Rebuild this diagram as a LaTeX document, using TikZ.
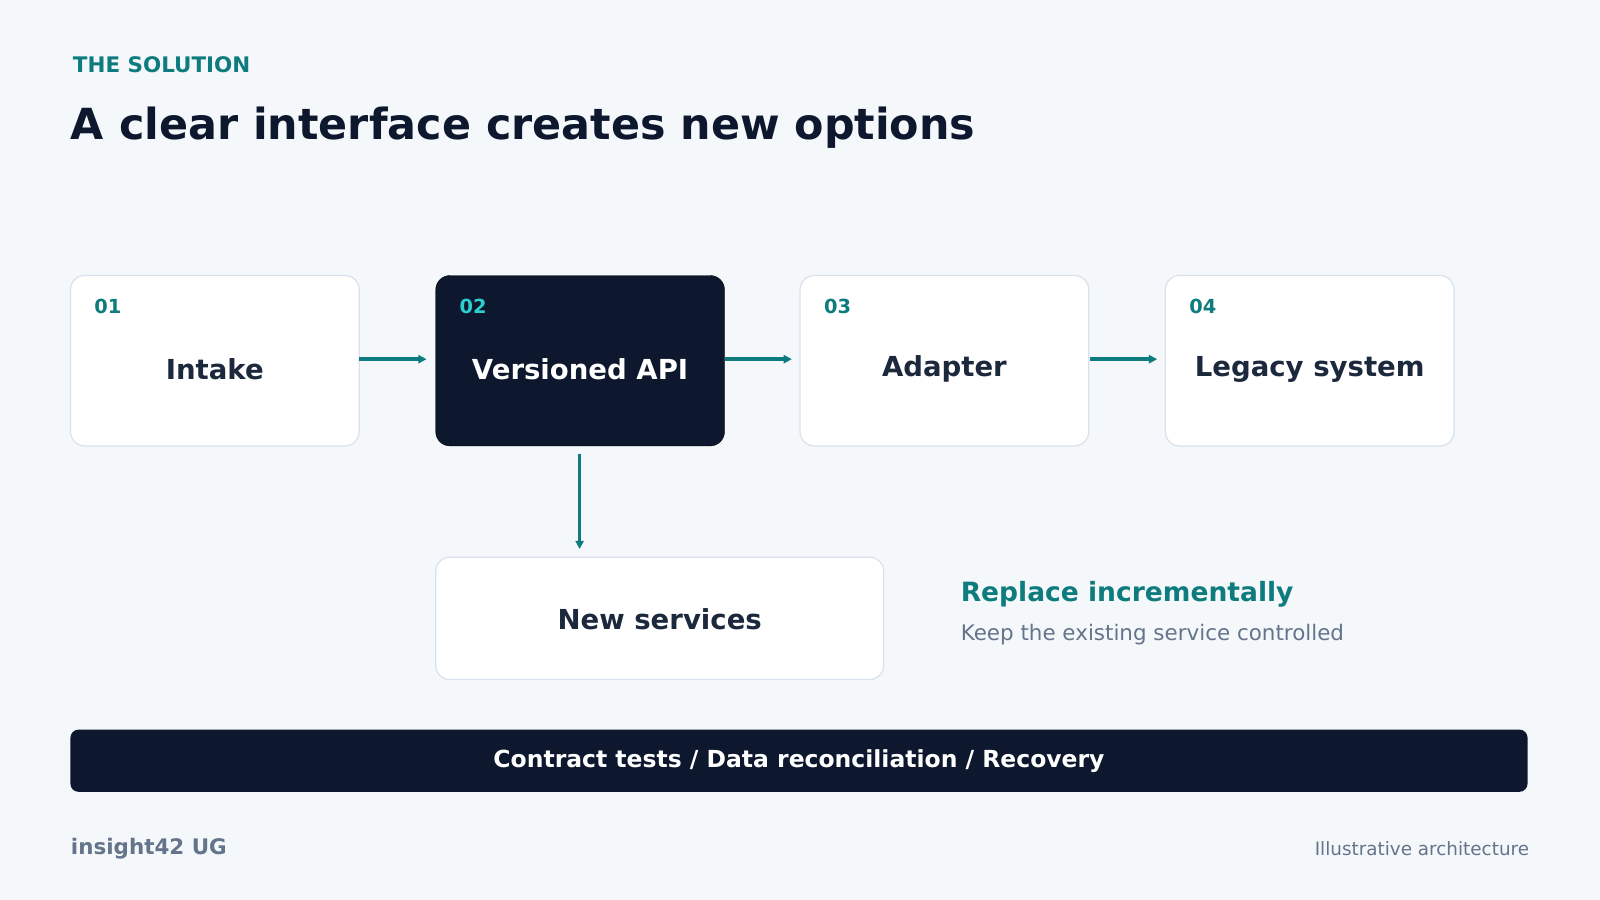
\documentclass[tikz,border=0pt]{standalone}
\usepackage{fontspec}
\setmainfont{DejaVu Sans}
\usetikzlibrary{arrows.meta}
\definecolor{bg}{HTML}{F4F8FB}
\definecolor{teal}{HTML}{0E7C7E}
\definecolor{navy}{HTML}{0D182E}
\definecolor{ink}{HTML}{1C283C}
\definecolor{bord}{HTML}{D9E2EC}
\definecolor{gray}{HTML}{64748B}
\definecolor{cyan}{HTML}{2CCFCF}
\begin{document}
\begin{tikzpicture}[x=1pt,y=-1pt,
 box/.style={draw=bord,line width=1.2pt,fill=white,rounded corners=14pt},
 dbox/.style={fill=navy,rounded corners=14pt},
 lab/.style={font=\fontsize{27}{30}\bfseries\selectfont,text=ink},
 num/.style={font=\fontsize{19}{22}\bfseries\selectfont,text=teal,anchor=west},
 arr/.style={draw=teal,line width=3.5pt,-{Triangle[length=8pt,width=8pt]}}]
\fill[bg] (0,0) rectangle (1568,882);
\node[anchor=west,text=teal,font=\fontsize{21}{24}\bfseries\selectfont] (kick) at (68,63) {THE SOLUTION};
\node[anchor=west,text=navy,font=\fontsize{42}{48}\bfseries\selectfont] (title) at (66,125) {A clear interface creates new options};
\draw[box] (69,270) rectangle (352,437);
\draw[dbox] (427,270) rectangle (710,437);
\draw[box] (784,270) rectangle (1067,437);
\draw[box] (1142,270) rectangle (1425,437);
\draw[box] (427,546) rectangle (866,666);
\node[num] (n1) at (89,300) {01};
\node[num,text=cyan] (n2) at (447,300) {02};
\node[num] (n3) at (804,300) {03};
\node[num] (n4) at (1162,300) {04};
\node[lab] (b1) at (210.5,362) {Intake};
\node[lab,text=white] (b2) at (568.5,362) {Versioned API};
\node[lab] (b3) at (925.5,362) {Adapter};
\node[lab] (b4) at (1283.5,362) {Legacy system};
\node[lab] (b5) at (646.5,607) {New services};
\coordinate (e1) at (352,352); \coordinate (s2) at (418,352);
\coordinate (e2) at (710,352); \coordinate (s3) at (776,352);
\coordinate (e3) at (1068,352); \coordinate (s4) at (1134,352);
\coordinate (d1) at (568,445); \coordinate (d2) at (568,538);
\draw[arr] (e1) -- (s2);
\draw[arr] (e2) -- (s3);
\draw[arr] (e3) -- (s4);
\draw[arr] (d1) -- (d2);
\node[anchor=west,text=teal,font=\fontsize{26}{30}\bfseries\selectfont] (r1) at (938,582) {Replace incrementally};
\node[anchor=west,text=gray,font=\fontsize{21}{25}\selectfont] (r2) at (938,622) {Keep the existing service controlled};
\fill[navy,rounded corners=8pt] (69,715) rectangle (1497,776);
\node[text=white,font=\fontsize{23}{26}\bfseries\selectfont] (bar) at (783,746) {Contract tests / Data reconciliation / Recovery};
\node[anchor=west,text=gray,font=\fontsize{21}{24}\bfseries\selectfont] (f1) at (66,832) {insight42 UG};
\node[anchor=east,text=gray,font=\fontsize{18}{22}\selectfont] (f2) at (1502,832) {Illustrative architecture};
\end{tikzpicture}
\end{document}
